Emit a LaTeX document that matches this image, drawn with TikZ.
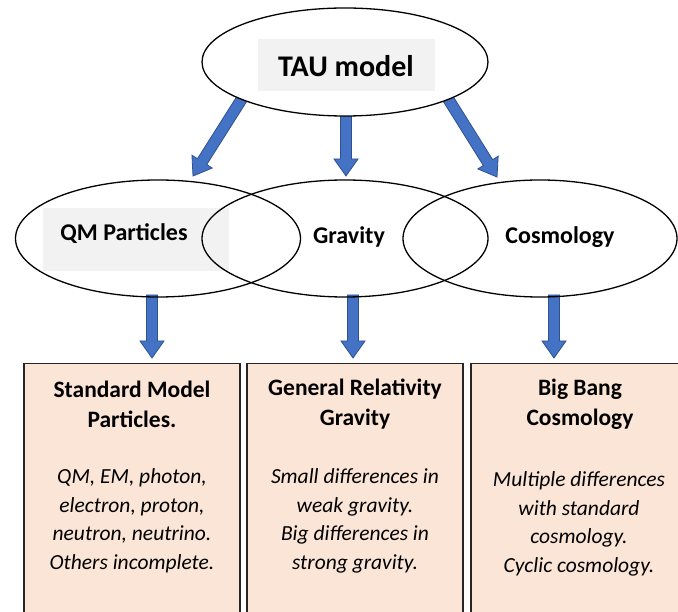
\documentclass[tikz,border=0pt]{standalone}
\usepackage{fontspec}
\setmainfont{Carlito}
\usetikzlibrary{calc,shapes.geometric}
\definecolor{abl}{HTML}{4472C4}
\definecolor{abd}{HTML}{2F528F}
\definecolor{peach}{HTML}{FBE5D6}
\definecolor{lgrey}{HTML}{F2F2F2}
\newcommand\blockarrow[2]{%
  \coordinate (hh) at ($(#2)!17pt!(#1)$);
  \draw[blockarr] ($(#1)!5.5pt!90:(#2)$) -- ($(hh)!5.5pt!90:(#2)$) -- ($(hh)!12pt!90:(#2)$) -- (#2)
     -- ($(hh)!12pt!-90:(#2)$) -- ($(hh)!5.5pt!-90:(#2)$) -- ($(#1)!5.5pt!-90:(#2)$) -- cycle;}
\begin{document}
\begin{tikzpicture}[x=1pt,y=-1pt,
  blockarr/.style={fill=abl,draw=abd,line width=0.8pt,line join=miter},
  oval/.style={ellipse,draw=black,line width=1.3pt,inner sep=0pt,minimum height=117pt},
  greybg/.style={fill=lgrey,draw=none,inner sep=0pt},
  lbl/.style={font=\fontsize{24}{29}\selectfont\bfseries,inner sep=0pt},
  infobox/.style={fill=peach,draw=black!85,line width=1.2pt,inner sep=0pt,minimum width=216pt,minimum height=260pt,anchor=north},
  ttl/.style={font=\fontsize{23.5}{30}\selectfont\bfseries,align=center,inner sep=0pt},
  body/.style={font=\fontsize{21.5}{28.5}\selectfont\itshape,align=center,inner sep=0pt}]
\useasboundingbox (0,0) rectangle (678,612);
\clip (0,0) rectangle (678,612);
\fill[white] (0,0) rectangle (678,612);

% arrow end points
\coordinate (a1s) at (243,97);  \coordinate (a1e) at (193,176);
\coordinate (a2s) at (346,112); \coordinate (a2e) at (346,176);
\coordinate (a3s) at (447,97);  \coordinate (a3e) at (497,177);
\coordinate (b1s) at (152,295); \coordinate (b1e) at (152,358);
\coordinate (b2s) at (353,295); \coordinate (b2e) at (353,358);
\coordinate (b3s) at (554,295); \coordinate (b3e) at (554,358);

\blockarrow{a1s}{a1e}
\blockarrow{a2s}{a2e}
\blockarrow{a3s}{a3e}
\blockarrow{b1s}{b1e}
\blockarrow{b2s}{b2e}
\blockarrow{b3s}{b3e}

% top ellipse
\node[oval,fill=white,minimum width=286pt,minimum height=108pt] (tau) at (345,62) {};
\node[greybg,minimum width=177pt,minimum height=52pt] (taubg) at (346.5,65) {};
\node[font=\fontsize{30}{36}\selectfont\bfseries,inner sep=0pt] (taut) at (346,66) {TAU model};

% second row
\node[greybg,minimum width=186pt,minimum height=63pt] (qmbg) at (136,239.5) {};
\node[oval,minimum width=285pt] (qm) at (158,238.5) {};
\node[oval,minimum width=286pt] (grav) at (345,238.5) {};
\node[oval,minimum width=274pt] (cosmo) at (540,238.5) {};
\node[lbl] (qmt) at (124,234) {QM Particles};
\node[lbl] (gravt) at (349,237) {Gravity};
\node[lbl] (cosmot) at (560,237) {Cosmology};

% boxes
\node[infobox] (box1) at (132,363) {};
\node[infobox] (box2) at (355,363) {};
\node[infobox] (box3) at (579,363) {};

\node[ttl] (t1) at (132,404) {Standard Model\\Particles.};
\node[ttl] (t2) at (355,404) {General Relativity\\Gravity};
\node[ttl] (t3) at (580,404) {Big Bang\\Cosmology};

\node[body] (d1) at (132,521) {QM, EM, photon,\\electron, proton,\\neutron, neutrino.\\Others incomplete.};
\node[body] (d2) at (355,521) {Small differences in\\weak gravity.\\Big differences in\\strong gravity.};
\node[body] (d3) at (579,524) {Multiple differences\\with standard\\cosmology.\\Cyclic cosmology.};
\end{tikzpicture}
\end{document}
